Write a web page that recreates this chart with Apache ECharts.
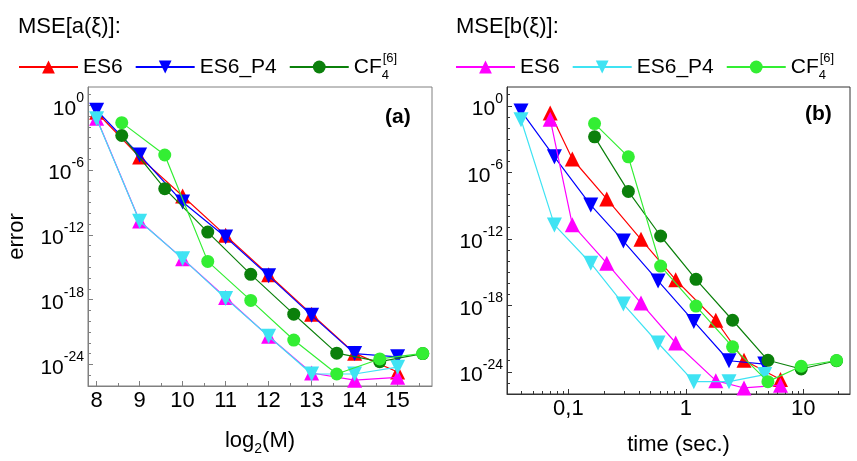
<!DOCTYPE html>
<html><head><meta charset="utf-8">
<script src="https://cdn.jsdelivr.net/npm/echarts@6/dist/echarts.min.js"></script>
<style>html,body{margin:0;padding:0;background:#fff}#c{width:857px;height:461px}</style>
</head><body><div id="c"></div>
<script>
// ---- data ----
const log2M_ES = [8, 9, 10, 11, 12, 13, 14, 15];
const log2M_CF = [8.585, 9.585, 10.585, 11.585, 12.585, 13.585, 14.585, 15.585];
const time_ES6 = [0.07, 0.108, 0.212, 0.415, 0.82, 1.8, 3.13, 6.4];
const time_P4  = [0.0395, 0.076, 0.155, 0.294, 0.58, 1.17, 2.33, 4.7];
const time_CF  = [0.167, 0.324, 0.61, 1.22, 2.5, 5.0, 9.6, 19.2];
const errA_ES6 = [0.23, 1.6e-5, 4e-9, 9e-13, 2e-16, 4.5e-20, 1.1e-23, 2e-25];
const errA_P4  = [0.35, 2.5e-5, 1.1e-9, 6.3e-13, 1.6e-16, 3.5e-20, 1e-23, 5e-24];
const errA_CF  = [1.6e-3, 1.9e-8, 1.8e-12, 2.2e-16, 4.5e-20, 1.1e-23, 1.8e-24, 1e-23];
const errB_ES6 = [6.3e-2, 1.9e-11, 6.3e-15, 1.6e-18, 4e-22, 1.6e-25, 3.5e-26, 6.3e-26];
const errB_P4  = [5.6e-2, 1.8e-11, 6.3e-15, 1.3e-18, 4e-22, 1.3e-25, 1.3e-25, 5.6e-25];
const errB_CF  = [2.5e-2, 2.5e-5, 3.5e-15, 8.5e-19, 1.8e-22, 1.3e-25, 3.2e-24, 1.05e-23];

// ---- ticks ----
const yLabelVals = [1, 1e-6, 1e-12, 1e-18, 1e-24];
const yMinorVals = [10, 1e-1, 1e-2, 1e-3, 1e-4, 1e-5, 1e-7, 1e-8, 1e-9, 1e-10, 1e-11, 1e-13, 1e-14, 1e-15, 1e-16, 1e-17, 1e-19, 1e-20, 1e-21, 1e-22, 1e-23, 1e-25];
const xLeftLabels = [8, 9, 10, 11, 12, 13, 14, 15];
const xLeftMinor = [8.5, 9.5, 10.5, 11.5, 12.5, 13.5, 14.5, 15.5];
const xRightLabels = [0.1, 1, 10];
const xRightLabelText = ['0,1', '1', '10'];
const xRightMinor = [0.04, 0.05, 0.06, 0.07, 0.08, 0.09, 0.2, 0.3, 0.4, 0.5, 0.6, 0.7, 0.8, 0.9, 2, 3, 4, 5, 6, 7, 8, 9, 20];

const FF = '"Liberation Sans", Arial, sans-serif';
const C = {red:'#ff0000', blue:'#0000ff', dgreen:'#0b800b', mag:'#ff00ff', cyan:'#3fe3f3', lgreen:'#33ee33'};
const UP = 'path://M5,0L10,9L0,9Z';
const DOWN = 'path://M0,0L10,0L5,9Z';

const supRich = {
  b: {fontSize: 21, fontFamily: FF, color: '#000', lineHeight: 28, verticalAlign: 'bottom'},
  s: {fontSize: 14, fontFamily: FF, color: '#000', lineHeight: 14, verticalAlign: 'top'}
};
function yLab(v) { return '{b|10}{s|' + Math.round(Math.log10(v)) + '}'; }

function mk(name, xs, ys, color, symbol, gi, z) {
  return {
    type: 'line', name: name, xAxisIndex: gi * 2, yAxisIndex: gi * 2,
    data: xs.map((v, i) => [v, ys[i]]),
    symbol: symbol, symbolSize: symbol === 'circle' ? 13 : 15,
    lineStyle: {width: 1.2, color: color}, itemStyle: {color: color},
    z: z, animation: false
  };
}
const series = [];
[[log2M_ES, log2M_ES, log2M_CF, 0], [time_ES6, time_P4, time_CF, 1]].forEach(([xE, xP, xC, gi]) => {
  series.push(mk('A_ES6', xE, errA_ES6, C.red, UP, gi, 2));
  series.push(mk('A_P4', xP, errA_P4, C.blue, DOWN, gi, 3));
  series.push(mk('B_ES6', xE, errB_ES6, C.mag, UP, gi, 4));
  series.push(mk('B_P4', xP, errB_P4, C.cyan, DOWN, gi, 5));
  series.push(mk('A_CF', xC, errA_CF, C.dgreen, 'circle', gi, 6));
  series.push(mk('B_CF', xC, errB_CF, C.lgreen, 'circle', gi, 7));
});

const legendNames = {A_ES6:'ES6', A_P4:'ES6_P4', A_CF:'{a|CF}{sub|4}{sup|[6]}', B_ES6:'ES6', B_P4:'ES6_P4', B_CF:'{a|CF}{sub|4}{sup|[6]}'};
const legRich = {
  a: {fontSize: 21, fontFamily: FF, color: '#000'},
  sub: {fontSize: 13, fontFamily: FF, color: '#000', verticalAlign: 'bottom', lineHeight: 30, width: 1},
  sup: {fontSize: 13, fontFamily: FF, color: '#000', verticalAlign: 'top', lineHeight: 30}
};
function legend(data, left) {
  return {
    data: data, left: left, top: 47, itemWidth: 59, itemHeight: 16, itemGap: 12,
    selectedMode: false, formatter: n => legendNames[n],
    textStyle: {fontSize: 21, fontFamily: FF, color: '#000', rich: legRich}
  };
}

function grid(left, width, border) {
  return {left: left, top: 87, width: width, height: 310, show: true, borderColor: border, borderWidth: 1, backgroundColor: 'transparent'};
}

function yMain(gi, col, name) {
  return {
    type: 'log', gridIndex: gi, min: 1e-26, max: 50, logBase: 10,
    name: name, nameLocation: 'middle', nameGap: 60, nameRotate: 90,
    nameTextStyle: {fontSize: 22, fontFamily: FF, color: '#000'},
    axisLine: {show: true, lineStyle: {color: col}},
    axisTick: {show: true, inside: true, length: 5, customValues: yLabelVals, lineStyle: {color: col}},
    axisLabel: {customValues: yLabelVals, formatter: yLab, rich: supRich, margin: 4},
    splitLine: {show: false}
  };
}
function yMinor(gi, col) {
  return {
    type: 'log', gridIndex: gi, min: 1e-26, max: 50, logBase: 10, position: 'left', offset: 0,
    axisLine: {show: false}, axisLabel: {show: false}, splitLine: {show: false},
    axisTick: {show: true, inside: true, length: 3, customValues: yMinorVals, lineStyle: {color: col}}
  };
}

const option = {
  animation: false,
  backgroundColor: '#fff',
  title: [
    {text: 'MSE[a(ξ)]:', left: 13, top: 11, textStyle: {fontSize: 22, fontWeight: 'normal', fontFamily: FF, color: '#000'}},
    {text: 'MSE[b(ξ)]:', left: 451, top: 11, textStyle: {fontSize: 22, fontWeight: 'normal', fontFamily: FF, color: '#000'}}
  ],
  legend: [legend(['A_ES6', 'A_P4', 'A_CF'], 13), legend(['B_ES6', 'B_P4', 'B_CF'], 450)],
  grid: [grid(88, 344, '#808080'), grid(507, 343, '#333')],
  xAxis: [
    {
      type: 'value', gridIndex: 0, min: 7.8, max: 15.8,
      name: '{a|log}{s|2}{a|(M)}', nameLocation: 'middle', nameGap: 40,
      nameTextStyle: {rich: {a: {fontSize: 22, fontFamily: FF, color: '#000'}, s: {fontSize: 14, fontFamily: FF, color: '#000', verticalAlign: 'bottom', lineHeight: 30}}},
      axisLine: {lineStyle: {color: '#808080'}},
      axisTick: {inside: true, length: 5, customValues: xLeftLabels, lineStyle: {color: '#808080'}},
      axisLabel: {customValues: xLeftLabels, fontSize: 22, fontFamily: FF, color: '#000', margin: 4},
      splitLine: {show: false}
    },
    {
      type: 'value', gridIndex: 0, min: 7.8, max: 15.8, position: 'bottom', offset: 0,
      axisLine: {show: false}, axisLabel: {show: false}, splitLine: {show: false},
      axisTick: {inside: true, length: 3, customValues: xLeftMinor, lineStyle: {color: '#808080'}}
    },
    {
      type: 'log', gridIndex: 1, min: 0.03, max: 25, logBase: 10,
      name: 'time (sec.)', nameLocation: 'middle', nameGap: 40,
      nameTextStyle: {fontSize: 22, fontFamily: FF, color: '#000'},
      axisLine: {lineStyle: {color: '#333'}},
      axisTick: {inside: true, length: 5, customValues: xRightLabels, lineStyle: {color: '#333'}},
      axisLabel: {customValues: xRightLabels, fontSize: 22, fontFamily: FF, color: '#000', margin: 4,
        formatter: v => { const i = xRightLabels.findIndex(t => Math.abs(Math.log10(t) - Math.log10(v)) < 1e-6); return i >= 0 ? xRightLabelText[i] : ''; }},
      splitLine: {show: false}
    },
    {
      type: 'log', gridIndex: 1, min: 0.03, max: 25, logBase: 10, position: 'bottom', offset: 0,
      axisLine: {show: false}, axisLabel: {show: false}, splitLine: {show: false},
      axisTick: {inside: true, length: 3, customValues: xRightMinor, lineStyle: {color: '#333'}}
    }
  ],
  yAxis: [yMain(0, '#808080', 'error'), yMinor(0, '#808080'), yMain(1, '#333', ''), yMinor(1, '#333')],
  graphic: [
    {type: 'text', left: 385, top: 107, style: {text: '(a)', fontSize: 21, fontWeight: 'bold', fontFamily: FF, fill: '#000'}},
    {type: 'text', left: 805, top: 104, style: {text: '(b)', fontSize: 21, fontWeight: 'bold', fontFamily: FF, fill: '#000'}}
  ],
  series: series
};
const chart = echarts.init(document.getElementById('c'), null, {renderer: 'canvas'});
chart.setOption(option);
</script>
</body></html>
